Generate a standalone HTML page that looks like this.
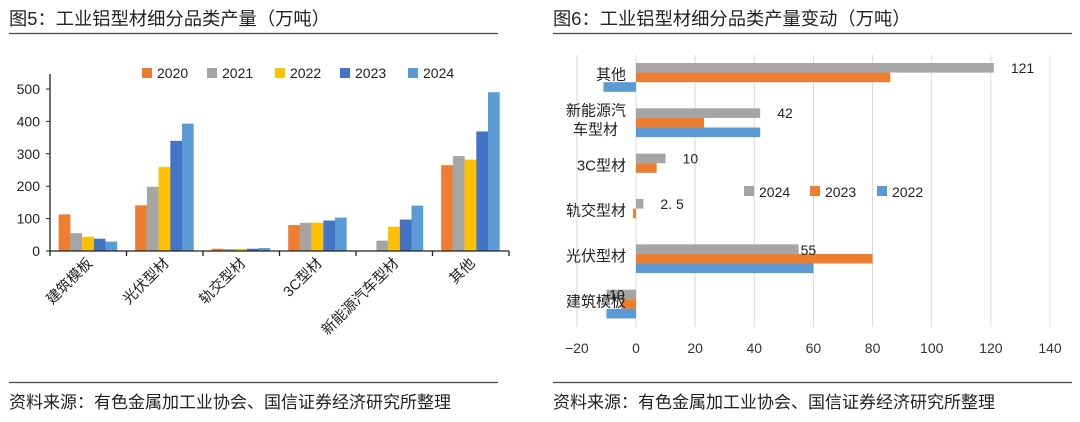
<!DOCTYPE html>
<html><head><meta charset="utf-8"><style>
body{margin:0;background:#fff;width:1080px;height:417px;overflow:hidden}
svg{font-family:"Liberation Sans","Noto Sans CJK SC",sans-serif}
</style></head><body>
<svg id="s" width="1080" height="417">
<text x="9" y="25" font-size="18.3" fill="#222">图5：工业铝型材细分品类产量（万吨）</text>
<line x1="9" y1="33.5" x2="498" y2="33.5" stroke="#444" stroke-width="1.3"/>
<text x="553" y="25" font-size="18.3" fill="#222">图6：工业铝型材细分品类产量变动（万吨）</text>
<line x1="553" y1="33.5" x2="1072" y2="33.5" stroke="#444" stroke-width="1.3"/>
<line x1="9" y1="382.5" x2="498" y2="382.5" stroke="#444" stroke-width="1.3"/>
<line x1="553" y1="382.5" x2="1072" y2="382.5" stroke="#444" stroke-width="1.3"/>
<text x="9" y="408" font-size="17" fill="#222">资料来源：有色金属加工业协会、国信证券经济研究所整理</text>
<text x="553" y="408" font-size="17" fill="#222">资料来源：有色金属加工业协会、国信证券经济研究所整理</text>
<g id="L"></g><g id="R"></g>
</svg>
<script>
const leftCats=["建筑模板","光伏型材","轨交型材","3C型材","新能源汽车型材","其他"];
const leftYears=["2020","2021","2022","2023","2024"];
const leftColors=["#ED7D31","#A5A5A5","#FFC000","#4472C4","#5B9BD5"];
const v2020=[113,141,7,80,0,265];
const v2021=[55,198,6,87,32,293];
const v2022=[44,259,6,87,75,282];
const v2023=[38,340,7,94,97,369];
const v2024=[29,393,9,103,140,490];
const leftTicks=[0,100,200,300,400,500];

const rightCats=["其他","新能源汽车型材","3C型材","轨交型材","光伏型材","建筑模板"];
const rightCatLines=[["其他"],["新能源汽","车型材"],["3C型材"],["轨交型材"],["光伏型材"],["建筑模板"]];
const rightYears=["2024","2023","2022"];
const rightColors=["#A5A5A5","#ED7D31","#5B9BD5"];
const d2024=[121,42,10,2.5,55,-10];
const d2023=[86,23,7,-1,80,-5];
const d2022=[-11,42,0,0,60,-10];
const d2024Labels=["121","42","10","2. 5","55","-10"];
const rightTicks=[-20,0,20,40,60,80,100,120,140];

const NS="http://www.w3.org/2000/svg";
function mk(p,t,a,txt){const e=document.createElementNS(NS,t);for(const k in a)e.setAttribute(k,a[k]);if(txt!==undefined)e.textContent=txt;p.appendChild(e);return e;}

// LEFT
const L=document.getElementById('L');
const lx0=50,lx1=509,ly0=251,ly500=89;
const ly=v=>ly0-(v/500)*(ly0-ly500);
const band=(lx1-lx0)/leftCats.length;
const leftSeries=[v2020,v2021,v2022,v2023,v2024];
leftTicks.forEach(t=>{
 const e=mk(L,'text',{x:40,y:ly(t)+5,'font-size':14,'text-anchor':'end',fill:'#222'},t);
 
 
 const k=mk(L,'line',{x1:lx0-4,x2:lx0,y1:ly(t),y2:ly(t),stroke:'#222'});
 
 
});
const bw=11.7;
leftSeries.forEach((s,si)=>{
 s.forEach((v,ci)=>{
  const x=lx0+ci*band+8.7+si*bw;
  const r=mk(L,'rect',{x:x,y:ly(v),width:bw,height:ly0-ly(v),fill:leftColors[si]});
  
  
 });
});
let a=mk(L,'line',{x1:lx0,x2:lx0,y1:74,y2:ly0,stroke:'#222','stroke-width':1.3});


a=mk(L,'line',{x1:lx0,x2:lx1,y1:ly0,y2:ly0,stroke:'#222','stroke-width':1.3});


for(let i=0;i<=leftCats.length;i++){
 const t=mk(L,'line',{x1:lx0+i*band,x2:lx0+i*band,y1:ly0,y2:ly0+5,stroke:'#222','stroke-width':1.3});
 
 
}
leftCats.forEach((c,i)=>{
 const cx=lx0+i*band+band/2+5,cy=264;
 const e=mk(L,'text',{x:cx,y:cy,'font-size':14.5,'text-anchor':'end',fill:'#222',transform:`rotate(-45 ${cx} ${cy})`},c);
 
 
});
const legX=[142,207,275,340,408];
leftYears.forEach((y,i)=>{
 const r=mk(L,'rect',{x:legX[i],y:68,width:10,height:10,fill:leftColors[i]});
 
 
 const t=mk(L,'text',{x:legX[i]+15,y:78,'font-size':14,fill:'#222'},y);
 
 
});

// RIGHT
const R=document.getElementById('R');
const rx=v=>636+v*(1050-636)/140;
const ry0=55,ry1=327;
const rb=(ry1-ry0)/rightCats.length;
rightTicks.forEach(t=>{
 const g=mk(R,'line',{x1:rx(t),x2:rx(t),y1:ry0,y2:ry1,stroke:'#d9d9d9'});
 
 
 const e=mk(R,'text',{x:rx(t),y:353,'font-size':14,'text-anchor':'middle',fill:'#333'},t<0?'−'+(-t):t);
 
 
});
const rightSeries=[d2024,d2023,d2022];
const bh=9.6;
rightSeries.forEach((s,si)=>{
 s.forEach((v,ci)=>{
  const y=ry0+ci*rb+8+si*bh;
  const x=Math.min(rx(0),rx(v)),w=Math.abs(rx(v)-rx(0));
  const r=mk(R,'rect',{x:x,y:y,width:w,height:bh,fill:rightColors[si]});
  
  
 });
});
d2024.forEach((v,ci)=>{
 const y=ry0+ci*rb+8+bh/2+5;
 const x=v<0?rx(v)-2:rx(v)+13;
 const t=mk(R,'text',{x:v<0?x:(ci==4?rx(v)+2:x+4),y:ci==4?y+1:y,'font-size':14,fill:'#222'},d2024Labels[ci]);
 
 
});
rightCatLines.forEach((ls,i)=>{
 const cy=ry0+i*rb+rb/2-4;
 ls.forEach((l,j)=>{
  const y=cy+(j-(ls.length-1)/2)*19+6;
  const t=mk(R,'text',{x:j==1?618:626,y:y,'font-size':15,'text-anchor':'end',fill:'#222'},l);
  
  
 });
});
const rlegX=[744,810,877];
rightYears.forEach((y,i)=>{
 const r=mk(R,'rect',{x:rlegX[i],y:186,width:10,height:10,fill:rightColors[i]});
 
 
 const t=mk(R,'text',{x:rlegX[i]+15,y:197,'font-size':14,fill:'#222'},y);
 
 
});
</script>
</body></html>
